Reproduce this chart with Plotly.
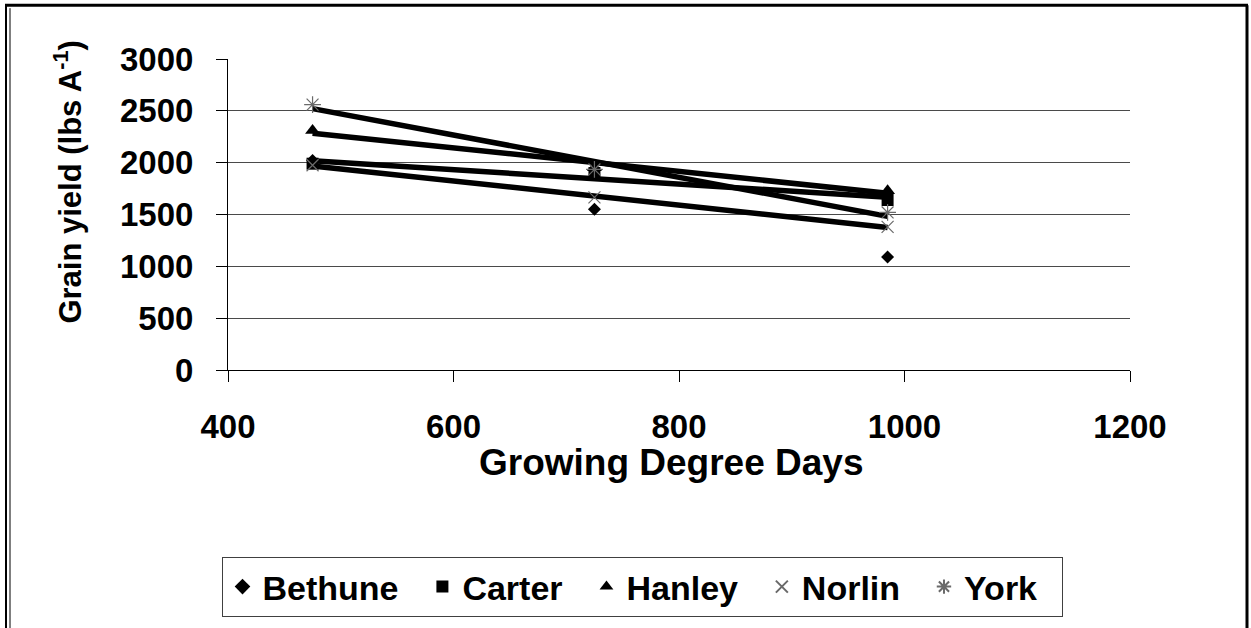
import plotly.graph_objects as go
import numpy as np

# ---- data ----
gdd = [475, 725, 985]
series_names = ["Bethune", "Carter", "Hanley", "Norlin", "York"]
bethune = [2020, 1550, 1090]
carter = [1990, 1900, 1640]
hanley = [2310, 1950, 1730]
norlin = [1975, 1665, 1380]
york = [2560, 1935, 1520]
trend_series = ["Carter", "Hanley", "Norlin", "York"]   # series with a linear trendline
x_ticks = [400, 600, 800, 1000, 1200]
y_ticks = [0, 500, 1000, 1500, 2000, 2500, 3000]

values = {"Bethune": bethune, "Carter": carter, "Hanley": hanley,
          "Norlin": norlin, "York": york}

styles = {
    "Bethune": dict(symbol="diamond", size=10, color="black", line=dict(width=0)),
    "Carter": dict(symbol="square", size=12, color="black", line=dict(width=0)),
    "Hanley": dict(symbol="triangle-up", size=13, color="black", line=dict(width=0)),
    "Norlin": dict(symbol="x-thin-open", size=12, color="#6a6a6a", line=dict(width=1.2, color="#6a6a6a")),
    "York": dict(symbol="asterisk-open", size=14, color="#6a6a6a", line=dict(width=1.2, color="#6a6a6a")),
}

FONT = "Arial, Liberation Sans, sans-serif"
NBSP2 = "\u00a0\u00a0"

fig = go.Figure()

# trendlines (least squares fits of each series)
for name in trend_series:
    slope, icpt = np.polyfit(gdd, values[name], 1)
    xs = [min(gdd), max(gdd)]
    fig.add_trace(go.Scatter(x=xs, y=[slope * v + icpt for v in xs], mode="lines",
                             line=dict(color="black", width=5.5),
                             showlegend=False, hoverinfo="skip"))

# markers
for name in series_names:
    fig.add_trace(go.Scatter(x=gdd, y=values[name], mode="markers", name=name + NBSP2,
                             marker=styles[name]))

W, H = 1251, 628
L, R, T, B = 228, 1130, 59, 371

fig.update_layout(
    width=W, height=H,
    margin=dict(l=L, r=W - R, t=T, b=H - B, pad=0),
    paper_bgcolor="white", plot_bgcolor="white",
    font=dict(family=FONT, color="black"),
    showlegend=True,
    legend=dict(orientation="h", x=(642 - L) / (R - L), xanchor="center",
                y=(B - 587) / (B - T), yanchor="middle",
                bordercolor="#404040", borderwidth=1, bgcolor="white",
                font=dict(family=FONT, size=34, weight="bold", color="black"),
                itemsizing="constant", itemwidth=30, tracegroupgap=0),
    xaxis=dict(range=[400, 1200], tickvals=x_ticks, showgrid=False,
               showline=True, linecolor="black", linewidth=1,
               ticks="outside", ticklen=11, tickcolor="black", tickwidth=1,
               tickfont=dict(family=FONT, size=33, weight="bold", color="black"),
               ticklabelstandoff=16, zeroline=False),
    yaxis=dict(range=[0, 3000], tickvals=y_ticks, showgrid=True,
               gridcolor="#4a4a4a", gridwidth=1,
               showline=True, linecolor="black", linewidth=1,
               ticks="outside", ticklen=11, tickcolor="black", tickwidth=1,
               tickfont=dict(family=FONT, size=33, weight="bold", color="black"),
               ticklabelstandoff=16, zeroline=False),
    annotations=[
        dict(text="Growing Degree Days", xref="paper", yref="paper",
             x=(671 - L) / (R - L), y=(B - 464) / (B - T), xanchor="center", yanchor="middle",
             showarrow=False, font=dict(family=FONT, size=37, weight="bold", color="black")),
        dict(text="Grain yield (lbs A<sup>-1</sup>)", xref="paper", yref="paper",
             x=(68 - L) / (R - L), y=(B - 183) / (B - T), xanchor="center", yanchor="middle",
             textangle=-90, showarrow=False,
             font=dict(family=FONT, size=31, weight="bold", color="black")),
    ],
)

# outer frame of the figure page
def px_x(p):
    return (p - L) / (R - L)

def px_y(p):
    return (B - p) / (B - T)

frame = [
    dict(x0=px_x(5), x1=px_x(1248), y0=px_y(5), y1=px_y(5), w=3),
    dict(x0=px_x(6), x1=px_x(6), y0=px_y(5), y1=px_y(640), w=2),
    dict(x0=px_x(10), x1=px_x(10), y0=px_y(8), y1=px_y(640), w=1),
    dict(x0=px_x(1247), x1=px_x(1247), y0=px_y(5), y1=px_y(640), w=3),
]
for f in frame:
    fig.add_shape(type="line", xref="paper", yref="paper",
                  x0=f["x0"], x1=f["x1"], y0=f["y0"], y1=f["y1"],
                  line=dict(color="black", width=f["w"]), layer="above")

fig.write_html("out.html", config={"displayModeBar": False},
               post_script="document.body.style.margin='0';")
